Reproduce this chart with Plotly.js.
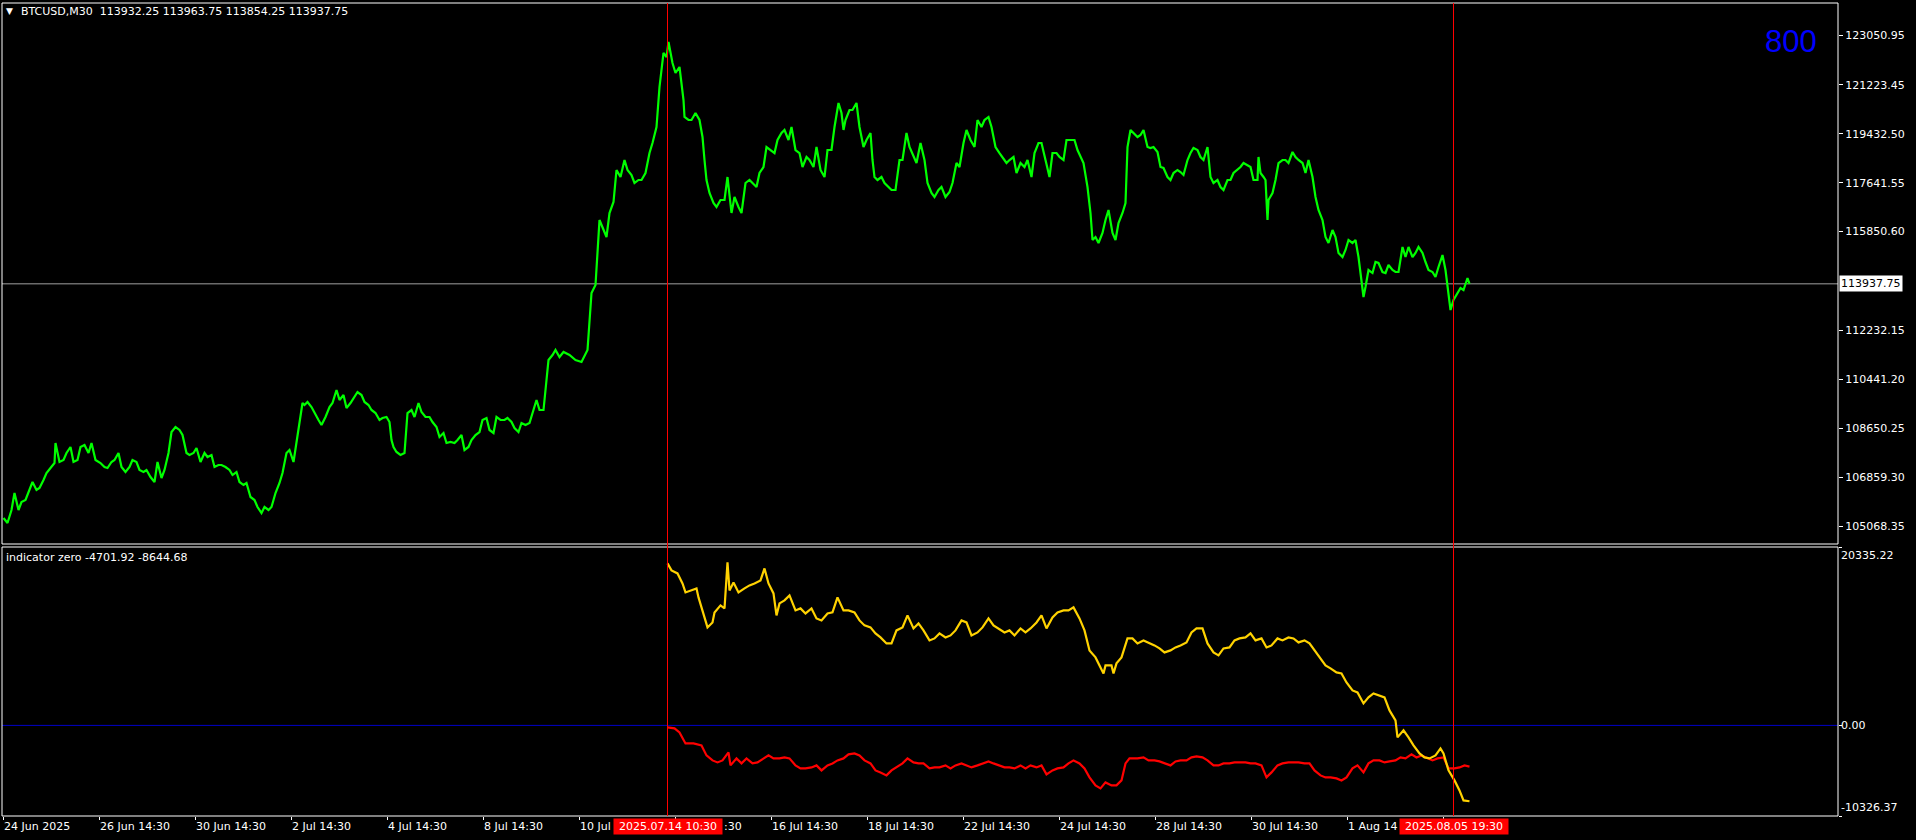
<!DOCTYPE html>
<html><head><meta charset="utf-8">
<script src="https://cdn.plot.ly/plotly-3.0.1.min.js"></script>
<style>html,body{margin:0;padding:0;background:#000;overflow:hidden}#chart{width:1916px;height:840px}</style>
</head><body><div id="chart"></div>
<script>
// ---- data ----
const symbolTitle = 'BTCUSD,M30';
const lastBarOHLC = ['113932.25', '113963.75', '113854.25', '113937.75'];
const lastPrice = 113937.75;
const indicatorTitle = 'indicator zero';
const indicatorLast = ['-4701.92', '-8644.68'];
const overlayNumber = '800';

const priceBars = [0,4,8,11,15,18,22,26,29,33,36,40,43,47,51,52,56,60,63,67,70,74,77,81,85,88,92,97,101,104,108,111,115,118,122,126,129,133,136,140,143,147,151,154,158,161,165,168,172,176,179,183,186,190,193,197,201,204,208,211,215,218,222,226,229,233,236,240,243,247,251,254,258,261,265,268,272,276,279,283,286,290,293,297,299,301,304,308,311,315,318,322,326,329,333,336,340,343,347,351,354,358,361,365,368,372,376,379,383,386,388,390,393,397,401,404,408,411,415,418,422,426,429,433,436,440,443,447,451,454,458,461,465,468,472,476,479,483,486,490,493,497,501,504,508,511,515,518,522,526,529,533,536,540,543,545,549,552,556,560,566,572,578,584,588,592,596,599,603,606,610,613,617,621,624,628,631,635,638,642,646,649,653,656,660,663,665,669,672,676,680,681,685,688,692,696,699,701,703,706,710,713,717,721,724,728,731,735,738,742,746,749,753,756,760,763,767,771,774,778,781,785,788,792,796,799,803,806,810,813,817,821,824,828,831,835,838,840,842,846,849,853,856,860,863,867,869,871,874,878,881,885,888,892,896,899,903,906,910,913,917,921,924,928,931,935,938,942,946,949,953,956,960,963,967,971,974,978,981,985,988,992,996,999,1003,1006,1010,1013,1017,1021,1024,1028,1031,1035,1038,1042,1046,1049,1053,1056,1060,1063,1067,1071,1074,1077,1080,1084,1087,1089,1092,1095,1099,1102,1105,1109,1112,1115,1119,1122,1124,1127,1130,1134,1137,1140,1144,1147,1150,1154,1157,1160,1164,1167,1170,1174,1177,1180,1184,1187,1190,1194,1197,1200,1204,1207,1210,1214,1217,1220,1224,1227,1230,1234,1237,1240,1244,1247,1250,1254,1255,1257,1260,1262,1264,1265,1269,1272,1275,1279,1282,1285,1289,1292,1295,1299,1302,1305,1309,1312,1315,1319,1322,1325,1329,1332,1335,1339,1342,1345,1349,1352,1355,1359,1360,1362,1365,1369,1372,1375,1379,1382,1385,1389,1392,1395,1399,1402,1405,1409,1412,1415,1419,1422,1425,1429,1432,1435,1439,1442,1444,1447,1450,1454,1457,1460,1464,1466];
const priceClose = [105362,105178,105655,106277,105655,105948,106021,106387,106680,106387,106460,106753,107010,107193,107376,108108,107413,107486,107742,107962,107413,107486,107962,108035,107742,108108,107486,107376,107229,107193,107413,107486,107742,107229,107046,107229,107486,107413,107120,107046,107120,106863,106680,107413,106827,107120,107742,108511,108694,108585,108401,107742,107669,107742,107925,107413,107742,107596,107669,107229,107303,107303,107229,107120,106936,107046,106680,106570,106643,106131,106021,105764,105545,105764,105655,105764,106277,106643,107010,107742,107852,107413,108108,109061,109573,109500,109610,109427,109207,108951,108768,109061,109427,109573,110049,109683,109866,109390,109573,109793,109976,109866,109610,109500,109317,109207,108951,109024,109061,108877,108218,107962,107779,107669,107742,109207,109317,109061,109573,109244,109061,109061,108877,108694,108328,108475,108108,108145,108108,108218,108401,107852,107962,108218,108401,108511,108951,109024,108585,108475,109061,108951,108951,109024,108877,108658,108511,108841,108768,108841,109207,109683,109317,109317,110416,111148,111331,111514,111258,111441,111331,111148,111075,111514,113602,113895,116276,116019,115653,116532,116935,118107,117850,118473,118107,117924,117631,117741,117741,117997,118729,119096,119682,121147,122392,122245,122795,122025,121659,121879,120670,120048,119938,119938,120194,119938,119315,118473,117741,117264,116898,116752,117008,117008,117850,116532,117118,116752,116532,117631,117741,117631,117484,117997,118217,118949,118839,118729,119205,119462,119572,119205,119682,118839,118729,118217,118583,118473,118217,118949,118107,117850,118839,118839,119682,120561,120194,119572,119938,120304,120304,120561,119682,118949,119205,119462,118473,117850,117741,117850,117631,117484,117374,117374,118473,118473,119462,118949,118583,118363,119096,118473,117631,117264,117118,117374,117484,117118,117301,117631,118363,118217,119096,119572,119205,118949,119938,119682,119938,120048,119682,118949,118729,118583,118363,118473,118583,117997,118363,118217,118473,117850,118729,119096,119096,118473,117850,118729,118729,118583,118473,119205,119205,119205,118839,118583,118363,117484,116532,115543,115653,115433,115799,116276,116642,115799,115543,116166,116532,116898,118949,119572,119462,119315,119389,119572,118949,118912,118949,118766,118217,118180,117850,117741,117997,118107,118033,117924,118473,118729,118912,118839,118583,118473,118949,117850,117631,117741,117484,117374,117741,117741,117997,118107,118217,118363,118290,118217,117741,117741,118583,117997,117850,117741,116276,117008,117264,117741,118363,118473,118473,118363,118766,118583,118473,118363,117997,118473,117850,117118,116642,116276,115653,115433,115909,115653,115067,114920,115177,115543,115433,115543,114920,113822,113456,113822,114444,114334,114737,114701,114371,114334,114627,114444,114371,114371,115287,114920,115287,114920,115067,115287,115067,114737,114444,114371,114188,114554,114994,114444,113822,112979,113346,113602,113785,113712,114151,113937.75];

const priceTickVals = [123050.95, 121223.45, 119432.50, 117641.55, 115850.60, 112232.15, 110441.20, 108650.25, 106859.30, 105068.35];

const yellowBars = [664,668,674,679,682,687,693,695,698,701,704,709,711,717,721,724,726,730,735,741,746,751,757,761,765,770,773,776,781,786,792,797,802,808,813,818,824,829,834,840,845,851,856,861,867,872,877,883,888,893,899,904,910,915,920,926,931,936,942,947,952,958,963,968,974,979,985,990,995,1001,1006,1011,1017,1022,1027,1033,1038,1043,1049,1054,1060,1065,1070,1076,1081,1086,1092,1097,1100,1102,1108,1110,1113,1118,1124,1129,1134,1140,1145,1151,1156,1161,1167,1172,1177,1183,1188,1193,1199,1204,1210,1215,1220,1226,1231,1236,1242,1247,1252,1258,1263,1268,1274,1279,1285,1290,1295,1301,1306,1311,1317,1322,1327,1333,1338,1343,1349,1354,1360,1365,1370,1376,1381,1386,1392,1394,1400,1405,1410,1416,1421,1426,1432,1437,1440,1445,1451,1456,1460,1466];
const yellowValues = [18465,17667,17325,16185,15159,15387,15615,14589,13450,12538,11170,11740,12880,13678,13336,18579,15387,16299,15159,15615,15957,16185,16527,17895,16185,15045,12538,13906,14248,14817,13108,13336,12766,13336,12196,11968,12766,12880,14589,13108,13108,12880,11968,11398,11170,10486,10030,9346,9346,10828,11170,12538,11056,11626,10828,9688,9916,10486,10030,10258,10828,11968,11740,10258,10600,11170,12196,11398,11056,10600,10828,10258,11056,10600,11056,11740,12538,11056,12310,12880,13108,13108,13450,12196,10828,8549,7751,6611,5927,6839,6839,5927,7067,7751,9916,9916,9346,9688,9460,9118,8776,8321,8549,8890,9118,9460,10600,11056,11056,9346,8321,7979,8776,8890,9688,9916,10030,10486,9688,9916,8890,9118,9916,9688,10030,9916,9460,9688,9346,8549,7637,6839,6497,6041,5927,4901,3989,3761,2508,3191,3647,3419,3191,1710,570,-1368,-570,-1368,-2280,-3191,-3647,-3761,-3419,-2622,-3191,-5129,-6269,-7409,-8549,-8644.68];

const redBars = [664,671,676,682,690,698,703,709,714,719,725,727,733,738,743,749,754,759,765,770,776,781,786,792,797,802,808,813,818,824,829,834,840,845,851,856,861,867,872,877,883,888,893,899,904,910,915,920,926,931,936,942,947,952,958,963,968,974,979,985,990,995,1001,1006,1011,1017,1022,1027,1033,1038,1043,1049,1054,1060,1065,1070,1076,1081,1086,1092,1097,1102,1108,1113,1118,1122,1126,1134,1140,1145,1151,1156,1161,1167,1172,1177,1183,1188,1193,1199,1204,1210,1215,1220,1226,1231,1236,1242,1247,1252,1258,1263,1268,1274,1279,1285,1290,1295,1301,1306,1311,1317,1322,1327,1333,1338,1343,1349,1354,1360,1365,1370,1376,1381,1386,1392,1397,1402,1408,1413,1418,1424,1429,1434,1440,1445,1451,1456,1461,1466];
const redValues = [-228,-342,-798,-2052,-2052,-2280,-3419,-3989,-4217,-3989,-3077,-4559,-3761,-4331,-3761,-4331,-4217,-3875,-3419,-3761,-3761,-3647,-3761,-4559,-4901,-4901,-4787,-4559,-5129,-4559,-4331,-3989,-3761,-3305,-3191,-3419,-3989,-4331,-5129,-5357,-5699,-5129,-4787,-4331,-3761,-4217,-4331,-4331,-4901,-4787,-4787,-4559,-4901,-4559,-4331,-4559,-4787,-4559,-4331,-4103,-4331,-4559,-4787,-4787,-4901,-4559,-4901,-4559,-4787,-4559,-5585,-5129,-4901,-4787,-4331,-3989,-4331,-4901,-5927,-6839,-7181,-6497,-6839,-6839,-6269,-4331,-3761,-3761,-3647,-3989,-3989,-4103,-4331,-4559,-4103,-3989,-3989,-3647,-3533,-3647,-3989,-4559,-4559,-4331,-4331,-4217,-4217,-4217,-4331,-4331,-4559,-5927,-5357,-4559,-4331,-4217,-4217,-4217,-4331,-4331,-5129,-5699,-5927,-5927,-6041,-6269,-5927,-4901,-4559,-5357,-4331,-3989,-3989,-4217,-4103,-3989,-3647,-3761,-3305,-3647,-3419,-3761,-3989,-3761,-3647,-4901,-4901,-4787,-4559,-4701.92];

const indicatorMax = 20335.22;
const indicatorMin = -10326.37;

// time axis: tick positions (bar numbers) and the part of each label left visible
const timeTickBars = [0,96,192,288,384,480,576,672,768,864,960,1056,1152,1248,1344,1440];
const timeTickLabels = ['24 Jun 2025','26 Jun 14:30','30 Jun 14:30','2 Jul 14:30','4 Jul 14:30','8 Jul 14:30','10 Jul',':30','16 Jul 14:30','18 Jul 14:30','22 Jul 14:30','24 Jul 14:30','28 Jul 14:30','30 Jul 14:30','1 Aug 14',''];
const timeTickLabelsFull = ['','','','','','','','14 Jul 14:30','','','','','','','',''];
const markerBars = [664, 1450];
const markerLabels = ['2025.07.14 10:30', '2025.08.05 19:30'];

// ---- layout ----
const FONT = 'DejaVu Sans, Verdana, sans-serif';
const topDomain = [0.33456, 1];
const botDomain = [0, 0.33087];
const priceRange = [104409.3, 124222.9];
const barRange = [-1.5, 1834.5];

const traces = [
  {x: priceBars, y: priceClose, xaxis: 'x', yaxis: 'y', type: 'scatter', mode: 'lines',
   line: {color: '#00ff00', width: 2.2}, hoverinfo: 'skip'},
  {x: redBars, y: redValues, xaxis: 'x2', yaxis: 'y2', type: 'scatter', mode: 'lines',
   line: {color: '#ff0000', width: 2.2}, hoverinfo: 'skip'},
  {x: yellowBars, y: yellowValues, xaxis: 'x2', yaxis: 'y2', type: 'scatter', mode: 'lines',
   line: {color: '#ffd200', width: 2.2}, hoverinfo: 'skip'}
];

const shapes = [
  {type: 'rect', xref: 'paper', yref: 'paper', x0: 0, x1: 1, y0: topDomain[0], y1: topDomain[1], line: {color: '#ffffff', width: 1}, layer: 'above'},
  {type: 'rect', xref: 'paper', yref: 'paper', x0: 0, x1: 1, y0: botDomain[0], y1: botDomain[1], line: {color: '#ffffff', width: 1}, layer: 'above'},
  {type: 'line', xref: 'paper', yref: 'y2', x0: 0, x1: 1, y0: 0, y1: 0, line: {color: '#0000c8', width: 1}, layer: 'below'},
  {type: 'line', xref: 'paper', yref: 'y', x0: 0, x1: 1, y0: lastPrice, y1: lastPrice, line: {color: '#a0a0a0', width: 1}, layer: 'below'}
];
markerBars.forEach(b => shapes.push({type: 'line', xref: 'x', yref: 'paper', x0: b, x1: b, y0: 0, y1: 1, line: {color: '#ff0000', width: 1}, layer: 'above'}));

const annotations = [];
const txt = (o) => Object.assign({showarrow: false, font: {family: FONT, size: 11, color: '#ffffff'}, borderpad: 1}, o);

annotations.push(txt({text: '▼', xref: 'paper', yref: 'paper', x: 0, y: 1, xanchor: 'left', yanchor: 'middle', xshift: 2, yshift: -8, font: {family: FONT, size: 9, color: '#ffffff'}}));
annotations.push(txt({text: symbolTitle + '\u00a0\u00a0' + lastBarOHLC.join(' '), xref: 'paper', yref: 'paper', x: 0, y: 1, xanchor: 'left', yanchor: 'middle', xshift: 17, yshift: -8}));
annotations.push(txt({text: indicatorTitle + ' ' + indicatorLast.join(' '), xref: 'paper', yref: 'paper', x: 0, y: botDomain[1], xanchor: 'left', yanchor: 'middle', xshift: 2, yshift: -10}));
annotations.push({text: overlayNumber, showarrow: false, xref: 'paper', yref: 'paper', x: 1, y: 1, xanchor: 'right', yanchor: 'middle', xshift: -19, yshift: -38, font: {family: 'Liberation Sans, Arial, sans-serif', size: 31, color: '#0000ff'}});
annotations.push(txt({text: lastPrice.toFixed(2), xref: 'paper', yref: 'y', x: 1, y: lastPrice, xanchor: 'left', yanchor: 'middle', xshift: 1, bgcolor: '#ffffff', font: {family: FONT, size: 11, color: '#000000'}}));
annotations.push(txt({text: indicatorMax.toFixed(2), xref: 'paper', yref: 'y2', x: 1, y: indicatorMax, xanchor: 'left', yanchor: 'top', xshift: 1}));
annotations.push(txt({text: (0).toFixed(2), xref: 'paper', yref: 'y2', x: 1, y: 0, xanchor: 'left', yanchor: 'middle', xshift: 1}));
annotations.push(txt({text: indicatorMin.toFixed(2), xref: 'paper', yref: 'y2', x: 1, y: indicatorMin, xanchor: 'left', yanchor: 'bottom', xshift: 1}));
timeTickBars.forEach((b, i) => {
  if (!timeTickLabels[i]) return;
  if (timeTickLabelsFull[i]) {
    // only the tail of this label shows past the marker label: right-align it where the full label would end
    annotations.push(txt({text: timeTickLabels[i], xref: 'x2', yref: 'paper', x: b, y: 0, xanchor: 'right', yanchor: 'top', xshift: 68, yshift: -2}));
  } else {
    annotations.push(txt({text: timeTickLabels[i], xref: 'x2', yref: 'paper', x: b, y: 0, xanchor: 'left', yanchor: 'top', xshift: -2, yshift: -2}));
  }
});
markerBars.forEach((b, i) => annotations.push(txt({text: markerLabels[i], xref: 'x2', yref: 'paper', x: b, y: 0, xanchor: 'center', yanchor: 'top', yshift: -2, bgcolor: '#ff0000', width: 106})));

const axisBase = {showgrid: false, zeroline: false, showline: false, fixedrange: true};
const layout = {
  width: 1916, height: 840,
  paper_bgcolor: '#000000', plot_bgcolor: '#000000',
  margin: {l: 2, r: 78, t: 3, b: 24, pad: 0},
  showlegend: false,
  font: {family: FONT, size: 11, color: '#ffffff'},
  xaxis: Object.assign({}, axisBase, {anchor: 'y', domain: [0, 1], range: barRange, showticklabels: false, ticks: ''}),
  xaxis2: Object.assign({}, axisBase, {anchor: 'y2', domain: [0, 1], range: barRange, matches: 'x', tickmode: 'array', tickvals: timeTickBars, showticklabels: false, ticks: 'outside', ticklen: 3, tickcolor: '#ffffff', tickwidth: 1}),
  yaxis: Object.assign({}, axisBase, {anchor: 'x', domain: topDomain, range: priceRange, side: 'right', tickmode: 'array', tickvals: priceTickVals, ticktext: priceTickVals.map(v => v.toFixed(2)), ticks: 'outside', ticklen: 4, tickcolor: '#ffffff', tickwidth: 1, tickfont: {family: FONT, size: 11, color: '#ffffff'}}),
  yaxis2: Object.assign({}, axisBase, {anchor: 'x2', domain: botDomain, range: [indicatorMin, indicatorMax], side: 'right', tickmode: 'array', tickvals: [indicatorMax, 0, indicatorMin], showticklabels: false, ticks: 'outside', ticklen: 3, tickcolor: '#ffffff', tickwidth: 1}),
  shapes: shapes,
  annotations: annotations
};

Plotly.newPlot('chart', traces, layout, {staticPlot: true, displayModeBar: false});
</script>
</body></html>
